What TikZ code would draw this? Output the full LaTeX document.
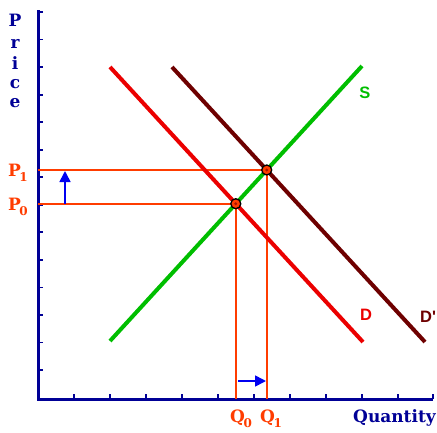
\documentclass[tikz,border=0pt]{standalone}
\usepackage{fontspec}
\setmainfont{DejaVu Serif}
\newfontfamily\labfont{Liberation Sans}
\usetikzlibrary{arrows.meta}
\definecolor{navy}{RGB}{0,0,150}
\definecolor{orng}{RGB}{255,60,0}
\definecolor{sgreen}{RGB}{0,190,0}
\definecolor{dred}{RGB}{235,0,0}
\definecolor{dpred}{RGB}{110,0,0}
\definecolor{arrblue}{RGB}{0,0,240}
\definecolor{dotcore}{RGB}{170,20,0}
\tikzset{
  axisline/.style={draw=navy,line width=3pt},
  tickline/.style={draw=navy,line width=1.8pt},
  curve/.style={line width=4pt},
  guide/.style={draw=orng,line width=1.6pt},
  shiftarrow/.style={draw=arrblue,line width=1.6pt,-{Triangle[width=11pt,length=11pt]}},
  eqpt/.style={circle,draw=black,line width=1.3pt,fill=orng,minimum size=10pt,inner sep=0pt},
  seriflab/.style={font=\fontsize{17}{17}\bfseries\selectfont,inner sep=0pt},
  axlab/.style={seriflab,text=navy},
  plab/.style={seriflab,text=orng},
  curvelab/.style={font=\labfont\fontsize{16.5}{16.5}\bfseries\selectfont,inner sep=0pt}
}
\newcommand{\subdigit}[1]{\hspace{-1.5pt}\raisebox{-5.5pt}{\fontsize{12}{12}\bfseries\selectfont #1}}
\begin{document}
\begin{tikzpicture}[x=1pt,y=-1pt]
\useasboundingbox (0,0) rectangle (437,432);
% axes
\coordinate (ytop) at (38,10);
\coordinate (orig) at (38,399);
\coordinate (xend) at (433,399);
\foreach \y in {12,39.5,67.1,94.6,122.2,149.7,177.2,204.8,232.3,259.9,287.4,314.9,342.5,370}
  \draw[tickline] (38,\y) -- ++(5,0);
\foreach \x in {74,110,146,182,218,254,290,326,362,398,433}
  \draw[tickline] (\x,399) -- ++(0,-5);
\draw[axisline] (ytop) -- (orig) -- (xend);
% curve end points
\coordinate (s1) at (110,341);
\coordinate (s2) at (362,66);
\coordinate (d1) at (110,67);
\coordinate (d2) at (363,342);
\coordinate (e1) at (172,67);
\coordinate (e2) at (425,342);
\coordinate (p0) at (intersection of s1--s2 and d1--d2);
\coordinate (p1) at (intersection of s1--s2 and e1--e2);
\coordinate (p0a) at (p0 -| orig);
\coordinate (p1a) at (p1 -| orig);
\coordinate (q0a) at (p0 |- orig);
\coordinate (q1a) at (p1 |- orig);
% guides
\draw[guide] (p0a) -- (p0) -- (q0a);
\draw[guide] (p1a) -- (p1) -- (q1a);
% curves
\draw[curve,draw=sgreen] (s1) -- (s2);
\draw[curve,draw=dred] (d1) -- (d2);
\draw[curve,draw=dpred] (e1) -- (e2);
% points
\node[eqpt] (pt0) at (p0) {};
\node[eqpt] (pt1) at (p1) {};
\fill[dotcore] (pt0.center) circle (1.6pt);
\fill[dotcore] (pt1.center) circle (1.6pt);
% shift arrows
\coordinate (ua) at (65,204);
\coordinate (ub) at (65,171);
\draw[shiftarrow] (ua) -- (ub);
\coordinate (ra) at (238,381);
\coordinate (rb) at (266,381);
\draw[shiftarrow] (ra) -- (rb);
% labels
\node[axlab,anchor=base] (lP) at (15,26) {P};
\node[axlab,anchor=base] (lr) at (15,48) {r};
\node[axlab,anchor=base] (li) at (15,69) {i};
\node[axlab,anchor=base] (lc) at (15,88) {c};
\node[axlab,anchor=base] (le) at (15,107) {e};
\node[axlab,anchor=base west] (lq) at (353,422) {Quantity};
\node[plab,anchor=base west] (lp1) at (8,176) {P\subdigit{1}};
\node[plab,anchor=base west] (lp0) at (8,210) {P\subdigit{0}};
\node[plab,anchor=base west] (lq0) at (230,422) {Q\subdigit{0}};
\node[plab,anchor=base west] (lq1) at (260,422) {Q\subdigit{1}};
\node[curvelab,text=sgreen] (ls) at (365,92.5) {S};
\node[curvelab,text=dred] (ld) at (366,315) {D};
\node[curvelab,text=dpred,anchor=base west] (lde) at (420,322) {D'};
\end{tikzpicture}
\end{document}
